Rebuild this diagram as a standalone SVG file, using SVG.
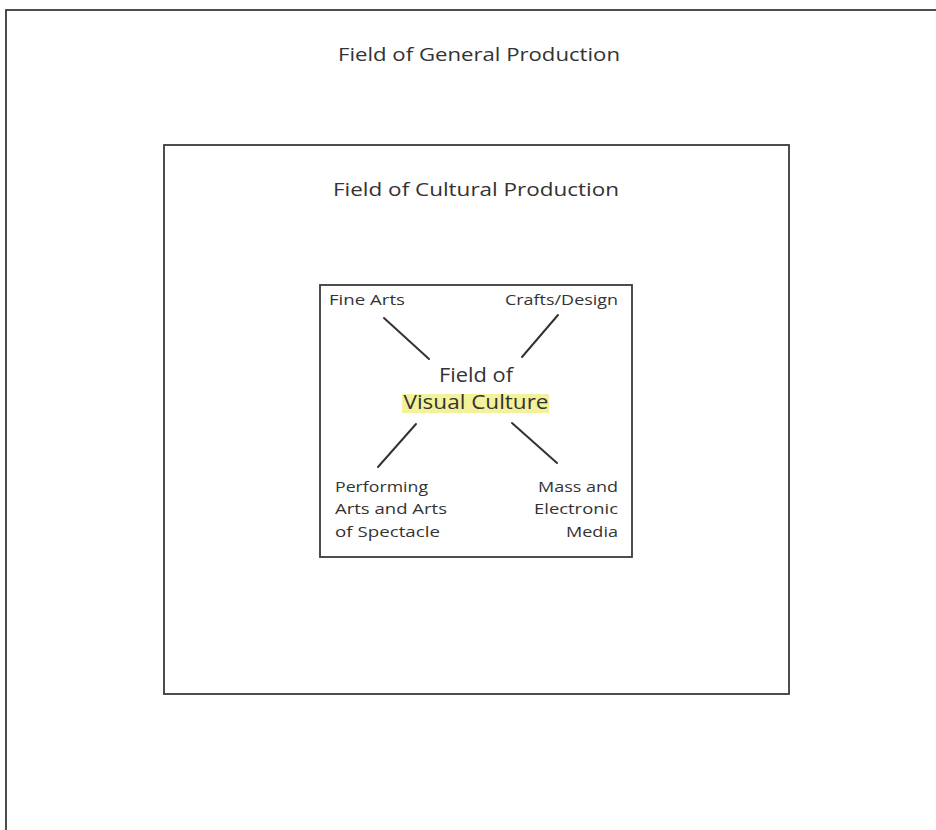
<svg xmlns="http://www.w3.org/2000/svg" width="936" height="830" viewBox="0 0 936 830">
<style>
.box{fill:none;stroke:#3a3a3a;stroke-width:1.8}
.t{font-family:"Open Sans","Noto Sans","DejaVu Sans",sans-serif;fill:#333}
.big{font-size:18px}
.sm{font-size:15px}
.mid{font-size:20px}
.con{stroke:#333;stroke-width:2;stroke-linecap:round}
</style>
<rect width="936" height="830" fill="#fff"/>
<g id="general">
<rect class="box" x="6" y="10" width="940" height="830"/>
<text class="t big" x="479" y="61" text-anchor="middle" textLength="282" lengthAdjust="spacingAndGlyphs">Field of General Production</text>
</g>
<g id="cultural">
<rect class="box" x="164" y="145" width="625" height="549"/>
<text class="t big" x="476" y="196" text-anchor="middle" textLength="286" lengthAdjust="spacingAndGlyphs">Field of Cultural Production</text>
</g>
<g id="visual">
<rect class="box" x="320" y="285" width="312" height="272"/>
<rect x="402" y="394" width="147" height="19" fill="#f3f29a"/>
<text class="t mid" x="476" y="382" text-anchor="middle" textLength="74" lengthAdjust="spacingAndGlyphs">Field of</text>
<text class="t mid" x="476" y="409" text-anchor="middle" textLength="145" lengthAdjust="spacingAndGlyphs" fill="#4a4a2a">Visual Culture</text>
</g>
<g id="fine-arts"><text class="t sm" x="329" y="305" textLength="76" lengthAdjust="spacingAndGlyphs">Fine Arts</text></g>
<g id="crafts"><text class="t sm" x="618" y="305" text-anchor="end" textLength="113" lengthAdjust="spacingAndGlyphs">Crafts/Design</text></g>
<g id="performing">
<text class="t sm" x="335" y="492" textLength="93" lengthAdjust="spacingAndGlyphs">Performing</text>
<text class="t sm" x="335" y="514" textLength="112" lengthAdjust="spacingAndGlyphs">Arts and Arts</text>
<text class="t sm" x="335" y="537" textLength="105" lengthAdjust="spacingAndGlyphs">of Spectacle</text>
</g>
<g id="mass">
<text class="t sm" x="618" y="492" text-anchor="end" textLength="80" lengthAdjust="spacingAndGlyphs">Mass and</text>
<text class="t sm" x="618" y="514" text-anchor="end" textLength="84" lengthAdjust="spacingAndGlyphs">Electronic</text>
<text class="t sm" x="618" y="537" text-anchor="end" textLength="52" lengthAdjust="spacingAndGlyphs">Media</text>
</g>
<g id="connectors">
<line class="con" x1="384" y1="318" x2="429" y2="359"/>
<line class="con" x1="558" y1="315" x2="522" y2="357"/>
<line class="con" x1="416" y1="424" x2="378" y2="467"/>
<line class="con" x1="512" y1="423" x2="557" y2="463"/>
</g>
</svg>
